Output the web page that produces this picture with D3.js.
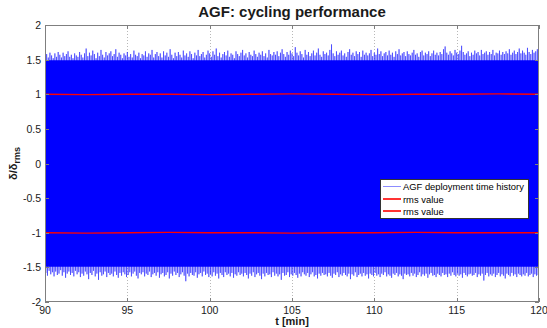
<!DOCTYPE html>
<html><head><meta charset="utf-8">
<script src="https://cdn.jsdelivr.net/npm/d3@7"></script>
<style>body{margin:0;background:#fff}svg{display:block;font-family:"Liberation Sans",Arial,sans-serif}</style>
</head><body><svg id="c" width="547" height="328"></svg>
<script>
// ---- data ----
const tStart = 90, tStep = 0.1;            // time base of peak envelopes [min]
const peakHi = [
1.55,1.58,1.53,1.60,1.56,1.52,1.59,1.54,1.61,1.57,
1.53,1.60,1.55,1.58,1.62,1.54,1.57,1.52,1.59,1.56,
1.54,1.61,1.57,1.53,1.59,1.66,1.55,1.60,1.56,1.63,
1.58,1.52,1.60,1.55,1.64,1.57,1.53,1.61,1.56,1.59,
1.62,1.55,1.58,1.65,1.54,1.60,1.57,1.52,1.59,1.56,
1.61,1.54,1.58,1.53,1.63,1.57,1.55,1.60,1.52,1.58,
1.56,1.62,1.54,1.59,1.57,1.64,1.53,1.58,1.61,1.55,
1.59,1.53,1.62,1.56,1.60,1.54,1.65,1.57,1.52,1.60,
1.55,1.61,1.57,1.53,1.63,1.56,1.59,1.54,1.62,1.58,
1.52,1.60,1.56,1.64,1.55,1.58,1.61,1.53,1.57,1.63,
1.59,1.54,1.62,1.57,1.66,1.55,1.60,1.53,1.58,1.61,
1.56,1.63,1.54,1.59,1.57,1.52,1.62,1.58,1.55,1.60,
1.64,1.56,1.59,1.53,1.61,1.57,1.55,1.63,1.58,1.54,
1.60,1.57,1.62,1.55,1.59,1.53,1.64,1.58,1.56,1.61,
1.57,1.62,1.55,1.60,1.65,1.58,1.54,1.61,1.57,1.63,
1.59,1.55,1.68,1.60,1.56,1.62,1.58,1.53,1.64,1.57,
1.61,1.55,1.59,1.63,1.56,1.60,1.66,1.57,1.54,1.62,
1.58,1.60,1.56,1.64,1.72,1.59,1.55,1.62,1.57,1.60,
1.63,1.56,1.59,1.54,1.61,1.65,1.57,1.60,1.55,1.62,
1.58,1.61,1.54,1.63,1.57,1.60,1.56,1.59,1.64,1.55,
1.60,1.57,1.66,1.58,1.62,1.55,1.59,1.61,1.56,1.63,
1.57,1.60,1.54,1.62,1.58,1.65,1.56,1.59,1.61,1.55,
1.62,1.58,1.56,1.60,1.64,1.57,1.59,1.54,1.61,1.63,
1.56,1.60,1.58,1.62,1.55,1.59,1.63,1.57,1.60,1.56,
1.61,1.58,1.65,1.69,1.60,1.57,1.62,1.59,1.56,1.64,
1.60,1.58,1.63,1.70,1.61,1.57,1.59,1.62,1.55,1.60,
1.57,1.63,1.59,1.61,1.56,1.64,1.58,1.60,1.62,1.57,
1.61,1.58,1.64,1.56,1.60,1.59,1.63,1.57,1.61,1.58,
1.62,1.59,1.65,1.57,1.60,1.63,1.58,1.61,1.66,1.59,
1.63,1.60,1.57,1.67,1.61,1.58,1.64,1.60,1.62,1.65,
1.60];
const peakLo = [
-1.58,-1.62,-1.55,-1.60,-1.57,-1.63,-1.56,-1.61,-1.59,-1.54,
-1.62,-1.57,-1.65,-1.59,-1.56,-1.61,-1.58,-1.63,-1.55,-1.60,
-1.57,-1.64,-1.59,-1.62,-1.56,-1.60,-1.67,-1.58,-1.61,-1.55,
-1.63,-1.59,-1.68,-1.57,-1.62,-1.60,-1.56,-1.64,-1.58,-1.61,
-1.59,-1.63,-1.56,-1.61,-1.65,-1.58,-1.62,-1.57,-1.60,-1.64,
-1.61,-1.57,-1.63,-1.59,-1.56,-1.62,-1.66,-1.58,-1.60,-1.57,
-1.63,-1.59,-1.61,-1.56,-1.64,-1.60,-1.58,-1.62,-1.57,-1.65,
-1.60,-1.58,-1.63,-1.61,-1.57,-1.66,-1.59,-1.62,-1.56,-1.61,
-1.58,-1.64,-1.60,-1.57,-1.62,-1.70,-1.59,-1.63,-1.58,-1.61,
-1.62,-1.57,-1.65,-1.60,-1.58,-1.63,-1.56,-1.61,-1.59,-1.64,
-1.60,-1.63,-1.57,-1.62,-1.59,-1.66,-1.58,-1.61,-1.64,-1.57,
-1.61,-1.59,-1.63,-1.58,-1.65,-1.60,-1.62,-1.57,-1.61,-1.59,
-1.63,-1.58,-1.61,-1.66,-1.59,-1.62,-1.57,-1.64,-1.60,-1.58,
-1.62,-1.67,-1.59,-1.63,-1.58,-1.61,-1.60,-1.64,-1.57,-1.62,
-1.59,-1.63,-1.60,-1.68,-1.58,-1.62,-1.61,-1.57,-1.64,-1.60,
-1.62,-1.58,-1.61,-1.65,-1.59,-1.63,-1.57,-1.60,-1.62,-1.58,
-1.64,-1.60,-1.57,-1.63,-1.61,-1.66,-1.59,-1.62,-1.58,-1.61,
-1.60,-1.63,-1.58,-1.62,-1.65,-1.59,-1.61,-1.57,-1.64,-1.60,
-1.62,-1.58,-1.61,-1.63,-1.59,-1.67,-1.60,-1.62,-1.57,-1.64,
-1.61,-1.59,-1.63,-1.58,-1.62,-1.60,-1.66,-1.59,-1.61,-1.63,
-1.58,-1.62,-1.60,-1.64,-1.59,-1.61,-1.57,-1.63,-1.60,-1.62,
-1.65,-1.59,-1.61,-1.58,-1.63,-1.60,-1.62,-1.67,-1.59,-1.61,
-1.60,-1.63,-1.58,-1.62,-1.59,-1.64,-1.61,-1.57,-1.63,-1.60,
-1.62,-1.59,-1.65,-1.60,-1.58,-1.62,-1.61,-1.64,-1.59,-1.61,
-1.63,-1.58,-1.61,-1.60,-1.64,-1.59,-1.62,-1.57,-1.61,-1.63,
-1.59,-1.62,-1.60,-1.65,-1.58,-1.61,-1.63,-1.60,-1.59,-1.62,
-1.61,-1.58,-1.64,-1.60,-1.62,-1.59,-1.69,-1.61,-1.58,-1.63,
-1.60,-1.62,-1.59,-1.64,-1.61,-1.58,-1.63,-1.60,-1.62,-1.66,
-1.59,-1.61,-1.63,-1.58,-1.62,-1.60,-1.64,-1.59,-1.61,-1.63,
-1.60,-1.62,-1.58,-1.63,-1.61,-1.59,-1.64,-1.60,-1.62,-1.61,
-1.60];
const bandLevel = 1.49;                      // solid part of the signal (|δ/δrms|)
const rmsT     = [90, 92.5, 95, 97.5, 100, 102.5, 105, 107.5, 110, 112.5, 115, 117.5, 120];
const rmsUpper = [1.00, 0.995, 1.00, 1.00, 0.995, 1.00, 1.005, 1.00, 0.995, 1.00, 1.00, 1.005, 1.00];
const rmsLower = [-1.00, -1.005, -1.00, -0.995, -1.00, -1.00, -1.005, -1.00, -1.00, -0.995, -1.00, -1.00, -1.00];
const xTicks = [90, 95, 100, 105, 110, 115, 120];
const yTicks = [-2, -1.5, -1, -0.5, 0, 0.5, 1, 1.5, 2];
const legendLabels = ["AGF deployment time history", "rms value", "rms value"];
const titleText = "AGF: cycling performance";

// ---- layout ----
const L = 45, R = 539, T = 25, B = 302;
const svg = d3.select("#c");
const x = d3.scaleLinear().domain([90, 120]).range([L, R]);
const y = d3.scaleLinear().domain([-2, 2]).range([B, T]);
const gray = "#7f7f7f", txt = "#1a1a1a";

svg.append("defs").append("clipPath").attr("id", "clip")
  .append("rect").attr("x", L).attr("y", T).attr("width", R - L).attr("height", B - T);

// grid (below data)
const grid = svg.append("g");
grid.selectAll("line.gx").data(xTicks.slice(1, -1)).join("line")
  .attr("x1", d => Math.round(x(d)) + 0.5).attr("x2", d => Math.round(x(d)) + 0.5)
  .attr("y1", T).attr("y2", B).attr("stroke", "#b8b8b8").attr("stroke-width", 1)
  .attr("stroke-dasharray", "1,2");

// signal: spikes first, solid band over them
const data = d3.range(peakHi.length).map(i => ({t: tStart + i * tStep, hi: peakHi[i], lo: peakLo[i]}));
const plot = svg.append("g").attr("clip-path", "url(#clip)");
const zz = [];
data.forEach(d => { zz.push([d.t, d.hi]); zz.push([d.t + tStep / 2, d.lo]); });
plot.append("path").datum(zz)
  .attr("d", d3.line().x(d => x(d[0])).y(d => y(d[1])))
  .attr("fill", "none").attr("stroke", "#2a2aff").attr("stroke-width", 0.6);
plot.append("path").datum([90, 120])
  .attr("d", d3.area().x(d => x(d)).y0(y(-bandLevel)).y1(y(bandLevel)))
  .attr("fill", "#0000ff");

// rms lines
const rmsLine = d3.line().x((d, i) => x(rmsT[i])).y(d => y(d));
[rmsUpper, rmsLower].forEach(arr => {
  plot.append("path").datum(arr).attr("d", rmsLine)
    .attr("fill", "none").attr("stroke", "#ff0000").attr("stroke-width", 1.4);
});

// axes box
svg.append("rect").attr("x", L + 0.5).attr("y", T + 0.5).attr("width", R - L - 1).attr("height", B - T - 1)
  .attr("fill", "none").attr("stroke", gray).attr("stroke-width", 1);

// ticks (inside, mirrored)
const tk = svg.append("g").attr("stroke", gray).attr("stroke-width", 1);
xTicks.forEach(v => {
  const px = Math.round(x(v)) + 0.5;
  tk.append("line").attr("x1", px).attr("x2", px).attr("y1", B).attr("y2", B - 4);
  tk.append("line").attr("x1", px).attr("x2", px).attr("y1", T).attr("y2", T + 4);
});
yTicks.forEach(v => {
  const py = Math.round(y(v)) + 0.5;
  tk.append("line").attr("x1", L).attr("x2", L + 4).attr("y1", py).attr("y2", py);
  tk.append("line").attr("x1", R).attr("x2", R - 4).attr("y1", py).attr("y2", py);
});

// tick labels
svg.append("g").selectAll("text").data(xTicks).join("text")
  .attr("x", d => x(d)).attr("y", B + 11.5).attr("text-anchor", "middle")
  .attr("font-size", 10.5).attr("fill", txt).text(d => d);
svg.append("g").selectAll("text").data(yTicks).join("text")
  .attr("x", L - 4).attr("y", d => y(d) + 4).attr("text-anchor", "end")
  .attr("font-size", 10.5).attr("fill", txt).text(d => d);

// title & axis labels
svg.append("text").attr("x", (L + R) / 2).attr("y", 17).attr("text-anchor", "middle")
  .attr("font-size", 15).attr("font-weight", "bold").attr("fill", txt).text(titleText);
svg.append("text").attr("x", (L + R) / 2).attr("y", 324.5).attr("text-anchor", "middle")
  .attr("font-size", 11).attr("font-weight", "bold").attr("fill", txt).text("t [min]");
const yl = svg.append("text").attr("transform", `translate(17,${(T + B) / 2}) rotate(-90)`)
  .attr("text-anchor", "middle").attr("font-size", 11).attr("font-weight", "bold").attr("fill", txt);
yl.append("tspan").text("δ/δ");
yl.append("tspan").attr("dy", 3).attr("font-size", 9).text("rms");

// legend
const lg = svg.append("g").attr("transform", "translate(380,179)");
lg.append("rect").attr("x", 0.5).attr("y", 0.5).attr("width", 148).attr("height", 39)
  .attr("fill", "#fff").attr("stroke", "#333").attr("stroke-width", 1);
const lcol = ["#8c8cff", "#ff0000", "#ff0000"];
const lw = [1, 1.6, 1.6];
const rowY = [7.5, 20, 32];
legendLabels.forEach((s, i) => {
  const yy = rowY[i];
  lg.append("line").attr("x1", 3).attr("x2", 21).attr("y1", yy).attr("y2", yy)
    .attr("stroke", lcol[i]).attr("stroke-width", lw[i]);
  lg.append("text").attr("x", 23).attr("y", yy + 3.5).attr("font-size", 9.4)
    .attr("fill", "#000").text(s);
});
</script></body></html>
